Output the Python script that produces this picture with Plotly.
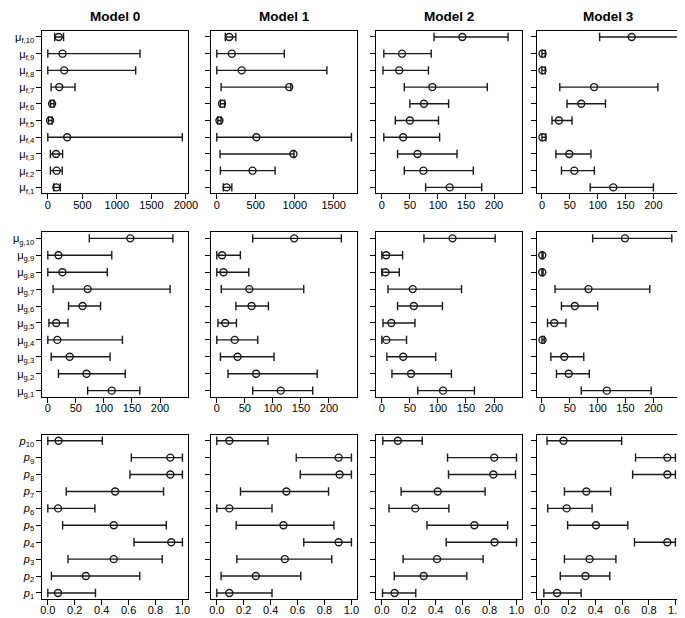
import plotly.graph_objects as go

# ---------------- data (index 1..10) ----------------
idx = list(range(1, 11))
models = ["Model 0", "Model 1", "Model 2", "Model 3"]

# mu_f
muf_m0_est = [124, 128, 119, 280, 33, 62, 166, 238, 214, 157]
muf_m0_lo = [86, 38, 38, 0, 10, 38, 48, 0, 0, 100]
muf_m0_hi = [181, 209, 214, 1948, 62, 90, 394, 1273, 1335, 228]
muf_m1_est = [126, 458, 983, 508, 34, 67, 929, 319, 193, 160]
muf_m1_lo = [84, 46, 42, 0, 13, 46, 55, 0, 0, 109]
muf_m1_hi = [193, 748, 990, 1727, 55, 101, 950, 1412, 866, 244]
muf_m2_est = [121, 74, 63.5, 38, 50, 75, 90, 31, 36, 143.5]
muf_m2_lo = [78, 40, 28, 3.5, 24, 50, 40, 2, 3.5, 93]
muf_m2_hi = [178, 163, 134, 103, 101, 119, 188, 83, 88, 225]
muf_m3_est = [128, 58, 49, 1, 30.5, 70.5, 93.5, 1, 1, 161]
muf_m3_lo = [86.5, 35, 25, 0, 18, 45, 32, 0, 0, 103.5]
muf_m3_hi = [200, 94, 88, 7, 54, 114, 208, 6, 6, 262]

# mu_g
mug_m0_est = [114, 69, 39, 17, 15, 62, 71, 26, 19, 147]
mug_m0_lo = [71, 19, 6, 0, 2, 37, 9.4, 0, 0, 74]
mug_m0_hi = [164, 138, 111, 133, 36, 94, 218, 106, 114, 223]
mug_m1_est = [114, 70, 37, 32, 15, 62, 58, 12, 9.4, 138]
mug_m1_lo = [64, 20, 6.5, 0, 2, 34, 8, 0, 0, 64]
mug_m1_hi = [171, 179, 102, 73, 35, 92, 155, 57, 42, 222]
mug_m2_est = [109, 52, 38, 8, 17, 57, 55, 6.5, 7.6, 126]
mug_m2_lo = [64, 18, 9, 0, 2, 28, 11, 0, 0, 75]
mug_m2_hi = [165, 124, 96, 44, 59, 108, 142, 31, 37, 202]
mug_m3_est = [116.5, 48, 40, 1, 22, 59, 83.5, 0.5, 0.5, 149]
mug_m3_lo = [70.5, 26, 16, 0, 10, 35, 23.5, 0, 0, 91]
mug_m3_hi = [196, 85, 75, 4, 43, 100, 193.5, 2, 2, 233]

# p
p_m0_est = [0.076, 0.283, 0.49, 0.917, 0.49, 0.076, 0.50, 0.91, 0.91, 0.08]
p_m0_lo = [0, 0.027, 0.15, 0.64, 0.11, 0, 0.137, 0.61, 0.62, 0]
p_m0_hi = [0.354, 0.683, 0.85, 1.0, 0.88, 0.35, 0.86, 1.0, 1.0, 0.405]
p_m1_est = [0.093, 0.29, 0.505, 0.905, 0.495, 0.093, 0.517, 0.912, 0.905, 0.093]
p_m1_lo = [0, 0.032, 0.149, 0.646, 0.144, 0, 0.176, 0.62, 0.59, 0]
p_m1_hi = [0.41, 0.624, 0.854, 1.0, 0.87, 0.41, 0.83, 1.0, 1.0, 0.38]
p_m2_est = [0.095, 0.311, 0.41, 0.837, 0.687, 0.248, 0.415, 0.828, 0.835, 0.119]
p_m2_lo = [0.005, 0.092, 0.158, 0.478, 0.335, 0.053, 0.143, 0.495, 0.488, 0.007]
p_m2_hi = [0.252, 0.631, 0.752, 1.0, 0.934, 0.498, 0.767, 0.993, 1.0, 0.30]
p_m3_est = [0.113, 0.325, 0.356, 0.9375, 0.404, 0.185, 0.332, 0.9375, 0.9375, 0.161]
p_m3_lo = [0.014, 0.137, 0.168, 0.692, 0.192, 0.043, 0.168, 0.678, 0.70, 0.038]
p_m3_hi = [0.293, 0.507, 0.553, 0.998, 0.642, 0.375, 0.514, 0.998, 0.998, 0.596]

muf_labels = ["\u03bc<sub>f,%d</sub>" % i for i in idx]
mug_labels = ["\u03bc<sub>g,%d</sub>" % i for i in idx]
p_labels = ["<i>p</i><sub>%d</sub>" % i for i in idx]

x_ticks_m0 = [0, 500, 1000, 1500, 2000]
x_ticks_m1 = [0, 500, 1000, 1500]
x_ticks_mu = [0, 50, 100, 150, 200]
x_ticks_p = [0.0, 0.2, 0.4, 0.6, 0.8, 1.0]
x_ticktext_p = ["0.0", "0.2", "0.4", "0.6", "0.8", "1.0"]

panels = [
    [(muf_m0_est, muf_m0_lo, muf_m0_hi, [-78, 2028], x_ticks_m0, None),
     (muf_m1_est, muf_m1_lo, muf_m1_hi, [-69, 1796], x_ticks_m1, None),
     (muf_m2_est, muf_m2_lo, muf_m2_hi, [-9.6, 249.6], x_ticks_mu, None),
     (muf_m3_est, muf_m3_lo, muf_m3_hi, [-9.6, 249.6], x_ticks_mu, None)],
    [(mug_m0_est, mug_m0_lo, mug_m0_hi, [-9.6, 249.6], x_ticks_mu, None),
     (mug_m1_est, mug_m1_lo, mug_m1_hi, [-9.6, 249.6], x_ticks_mu, None),
     (mug_m2_est, mug_m2_lo, mug_m2_hi, [-9.6, 249.6], x_ticks_mu, None),
     (mug_m3_est, mug_m3_lo, mug_m3_hi, [-9.6, 249.6], x_ticks_mu, None)],
    [(p_m0_est, p_m0_lo, p_m0_hi, [-0.04, 1.04], x_ticks_p, x_ticktext_p),
     (p_m1_est, p_m1_lo, p_m1_hi, [-0.04, 1.04], x_ticks_p, x_ticktext_p),
     (p_m2_est, p_m2_lo, p_m2_hi, [-0.04, 1.04], x_ticks_p, x_ticktext_p),
     (p_m3_est, p_m3_lo, p_m3_hi, [-0.04, 1.04], x_ticks_p, x_ticktext_p)],
]
row_labels = [muf_labels, mug_labels, p_labels]

# ---------------- layout geometry (pixels) ----------------
W, H = 685, 618
col_px = [(33, 181), (205, 353), (373, 521), (536, 683)]
row_px = [(23, 186), (225, 390), (428, 593)]

FONT = "Liberation Sans, Arial, Helvetica, sans-serif"
INK = "#1a1a1a"

fig = go.Figure()
layout = dict(
    width=W, height=H, margin=dict(l=0, r=0, t=0, b=0),
    paper_bgcolor="white", plot_bgcolor="white", showlegend=False,
    font=dict(family=FONT, size=11, color="black"),
)
annotations = []

k = 0
for r in range(3):
    for c in range(4):
        k += 1
        est, lo, hi, xr, xt, xtt = panels[r][c]
        xa = "x" if k == 1 else "x%d" % k
        ya = "y" if k == 1 else "y%d" % k
        xs, ys = [], []
        for e_lo, e_hi, yy in zip(lo, hi, idx):
            xs += [e_lo, e_hi, None]
            ys += [yy, yy, None]
        fig.add_trace(go.Scatter(x=xs, y=ys, mode="lines", xaxis=xa, yaxis=ya,
                                 line=dict(color=INK, width=1.4), hoverinfo="skip"))
        fig.add_trace(go.Scatter(x=lo + hi, y=idx + idx, mode="markers", xaxis=xa, yaxis=ya,
                                 marker=dict(symbol="line-ns", size=6,
                                             line=dict(color=INK, width=1.4)),
                                 hoverinfo="skip"))
        fig.add_trace(go.Scatter(x=est, y=idx, mode="markers", xaxis=xa, yaxis=ya,
                                 marker=dict(symbol="circle-open", size=7,
                                             color=INK, line=dict(color=INK, width=1.4))))
        x0, x1 = col_px[c]
        y0, y1 = row_px[r]
        xkey = "xaxis" if k == 1 else "xaxis%d" % k
        ykey = "yaxis" if k == 1 else "yaxis%d" % k
        xdict = dict(domain=[x0 / W, x1 / W], anchor=ya, range=xr,
                     tickvals=xt, showgrid=False, zeroline=False,
                     showline=True, mirror=True, linecolor="black", linewidth=1,
                     ticks="outside", ticklen=5, tickcolor="black", tickwidth=1,
                     ticklabelstandoff=-4,
                     tickfont=dict(size=11, family=FONT, color="black"))
        if xtt is not None:
            xdict["ticktext"] = xtt
        layout[xkey] = xdict
        ydict = dict(domain=[1 - y1 / H, 1 - y0 / H], anchor=xa, range=[0.64, 10.36],
                     tickvals=idx, showgrid=False, zeroline=False,
                     showline=True, mirror=True, linecolor="black", linewidth=1,
                     ticks="outside", ticklen=5, tickcolor="black", tickwidth=1,
                     showticklabels=(c == 0), ticktext=row_labels[r],
                     tickfont=dict(size=11, family=FONT, color="black"))
        layout[ykey] = ydict

for c in range(4):
    x0, x1 = col_px[c]
    annotations.append(dict(text="<b>%s</b>" % models[c], x=(x0 + x1) / 2 / W, y=1 - 9 / H,
                            xref="paper", yref="paper", showarrow=False,
                            xanchor="center", yanchor="middle",
                            font=dict(size=13.5, family=FONT, color="black")))
layout["annotations"] = annotations
fig.update_layout(**layout)
fig.write_html("out.html")
